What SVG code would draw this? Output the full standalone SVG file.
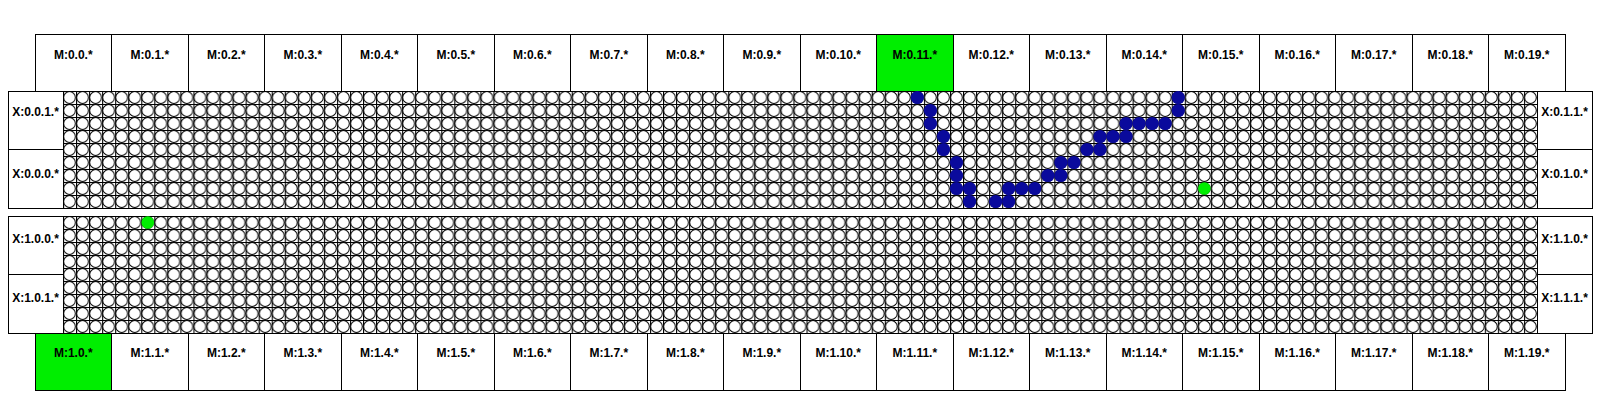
<svg xmlns="http://www.w3.org/2000/svg" width="1600" height="400" viewBox="0 0 1600 400">
<style>
.box{fill:#fff;stroke:#000;stroke-width:1;shape-rendering:crispEdges}
.on{fill:#00ee00}
.ln{stroke:#000;stroke-width:1;fill:none;shape-rendering:crispEdges}
.lbl{font-family:"Liberation Sans",Arial,Helvetica,sans-serif;font-size:12px;font-weight:bold;text-anchor:middle;fill:#000}
.b{fill:#0a0a9c}
.g{fill:#00ee00}
</style>
<defs>
<pattern id="cellsTop" patternUnits="userSpaceOnUse" x="63" y="91" width="13.044" height="13">
<rect width="13.044" height="13" fill="#fff"/>
<path d="M0,0H13.044M0,0V13" stroke="#000" stroke-width="2.2"/>
<circle cx="6.522" cy="6.5" r="5.9" fill="#fff" stroke="#000" stroke-width="1"/>
</pattern>
<pattern id="cellsBot" patternUnits="userSpaceOnUse" x="63" y="216" width="13.044" height="13">
<rect width="13.044" height="13" fill="#fff"/>
<path d="M0,0H13.044M0,0V13" stroke="#000" stroke-width="2.2"/>
<circle cx="6.522" cy="6.5" r="5.9" fill="#fff" stroke="#000" stroke-width="1"/>
</pattern>
</defs>
<rect width="1600" height="400" fill="#fff"/>

<g id="top-modules">
<g id="m-0-0"><rect class="box" x="35" y="34" width="76.5" height="57"/><text class="lbl" x="73.25" y="59">M:0.0.*</text></g>
<g id="m-0-1"><rect class="box" x="111.5" y="34" width="76.5" height="57"/><text class="lbl" x="149.75" y="59">M:0.1.*</text></g>
<g id="m-0-2"><rect class="box" x="188" y="34" width="76.5" height="57"/><text class="lbl" x="226.25" y="59">M:0.2.*</text></g>
<g id="m-0-3"><rect class="box" x="264.5" y="34" width="76.5" height="57"/><text class="lbl" x="302.75" y="59">M:0.3.*</text></g>
<g id="m-0-4"><rect class="box" x="341" y="34" width="76.5" height="57"/><text class="lbl" x="379.25" y="59">M:0.4.*</text></g>
<g id="m-0-5"><rect class="box" x="417.5" y="34" width="76.5" height="57"/><text class="lbl" x="455.75" y="59">M:0.5.*</text></g>
<g id="m-0-6"><rect class="box" x="494" y="34" width="76.5" height="57"/><text class="lbl" x="532.25" y="59">M:0.6.*</text></g>
<g id="m-0-7"><rect class="box" x="570.5" y="34" width="76.5" height="57"/><text class="lbl" x="608.75" y="59">M:0.7.*</text></g>
<g id="m-0-8"><rect class="box" x="647" y="34" width="76.5" height="57"/><text class="lbl" x="685.25" y="59">M:0.8.*</text></g>
<g id="m-0-9"><rect class="box" x="723.5" y="34" width="76.5" height="57"/><text class="lbl" x="761.75" y="59">M:0.9.*</text></g>
<g id="m-0-10"><rect class="box" x="800" y="34" width="76.5" height="57"/><text class="lbl" x="838.25" y="59">M:0.10.*</text></g>
<g id="m-0-11"><rect class="box on" x="876.5" y="34" width="76.5" height="57"/><text class="lbl" x="914.75" y="59">M:0.11.*</text></g>
<g id="m-0-12"><rect class="box" x="953" y="34" width="76.5" height="57"/><text class="lbl" x="991.25" y="59">M:0.12.*</text></g>
<g id="m-0-13"><rect class="box" x="1029.5" y="34" width="76.5" height="57"/><text class="lbl" x="1067.75" y="59">M:0.13.*</text></g>
<g id="m-0-14"><rect class="box" x="1106" y="34" width="76.5" height="57"/><text class="lbl" x="1144.25" y="59">M:0.14.*</text></g>
<g id="m-0-15"><rect class="box" x="1182.5" y="34" width="76.5" height="57"/><text class="lbl" x="1220.75" y="59">M:0.15.*</text></g>
<g id="m-0-16"><rect class="box" x="1259" y="34" width="76.5" height="57"/><text class="lbl" x="1297.25" y="59">M:0.16.*</text></g>
<g id="m-0-17"><rect class="box" x="1335.5" y="34" width="76.5" height="57"/><text class="lbl" x="1373.75" y="59">M:0.17.*</text></g>
<g id="m-0-18"><rect class="box" x="1412" y="34" width="76.5" height="57"/><text class="lbl" x="1450.25" y="59">M:0.18.*</text></g>
<g id="m-0-19"><rect class="box" x="1488.5" y="34" width="76.5" height="57"/><text class="lbl" x="1526.75" y="59">M:0.19.*</text></g>
</g>

<g id="panel-0">
<rect x="63" y="91" width="1474" height="117" fill="url(#cellsTop)"/>
<rect class="box" x="8" y="91" width="1584" height="117" style="fill:none"/>
<path class="ln" d="M63,91V208M1537,91V208M8,149.5H63M1537,149.5H1592"/>
<g id="x-0-0-1"><text class="lbl" x="35.5" y="115.5">X:0.0.1.*</text></g>
<g id="x-0-0-0"><text class="lbl" x="35.5" y="178">X:0.0.0.*</text></g>
<g id="x-0-1-1"><text class="lbl" x="1564.5" y="115.5">X:0.1.1.*</text></g>
<g id="x-0-1-0"><text class="lbl" x="1564.5" y="178">X:0.1.0.*</text></g>
</g>

<g id="panel-1">
<rect x="63" y="216" width="1474" height="117" fill="url(#cellsBot)"/>
<rect class="box" x="8" y="216" width="1584" height="117" style="fill:none"/>
<path class="ln" d="M63,216V333M1537,216V333M8,274.5H63M1537,274.5H1592"/>
<g id="x-1-0-0"><text class="lbl" x="35.5" y="243">X:1.0.0.*</text></g>
<g id="x-1-0-1"><text class="lbl" x="35.5" y="302">X:1.0.1.*</text></g>
<g id="x-1-1-0"><text class="lbl" x="1564.5" y="243">X:1.1.0.*</text></g>
<g id="x-1-1-1"><text class="lbl" x="1564.5" y="302">X:1.1.1.*</text></g>
</g>

<g id="route">
<circle class="b" cx="917.38" cy="97.5" r="6.6"/>
<circle class="b" cx="930.42" cy="110.5" r="6.6"/>
<circle class="b" cx="930.42" cy="123.5" r="6.6"/>
<circle class="b" cx="943.47" cy="136.5" r="6.6"/>
<circle class="b" cx="943.47" cy="149.5" r="6.6"/>
<circle class="b" cx="956.51" cy="162.5" r="6.6"/>
<circle class="b" cx="956.51" cy="175.5" r="6.6"/>
<circle class="b" cx="956.51" cy="188.5" r="6.6"/>
<circle class="b" cx="969.56" cy="188.5" r="6.6"/>
<circle class="b" cx="969.56" cy="201.5" r="6.6"/>
<circle class="b" cx="995.65" cy="201.5" r="6.6"/>
<circle class="b" cx="1008.69" cy="201.5" r="6.6"/>
<circle class="b" cx="1008.69" cy="188.5" r="6.6"/>
<circle class="b" cx="1021.73" cy="188.5" r="6.6"/>
<circle class="b" cx="1034.78" cy="188.5" r="6.6"/>
<circle class="b" cx="1047.82" cy="175.5" r="6.6"/>
<circle class="b" cx="1060.87" cy="175.5" r="6.6"/>
<circle class="b" cx="1060.87" cy="162.5" r="6.6"/>
<circle class="b" cx="1073.91" cy="162.5" r="6.6"/>
<circle class="b" cx="1086.95" cy="149.5" r="6.6"/>
<circle class="b" cx="1100" cy="149.5" r="6.6"/>
<circle class="b" cx="1100" cy="136.5" r="6.6"/>
<circle class="b" cx="1113.04" cy="136.5" r="6.6"/>
<circle class="b" cx="1126.09" cy="136.5" r="6.6"/>
<circle class="b" cx="1126.09" cy="123.5" r="6.6"/>
<circle class="b" cx="1139.13" cy="123.5" r="6.6"/>
<circle class="b" cx="1152.17" cy="123.5" r="6.6"/>
<circle class="b" cx="1165.22" cy="123.5" r="6.6"/>
<circle class="b" cx="1178.26" cy="110.5" r="6.6"/>
<circle class="b" cx="1178.26" cy="97.5" r="6.6"/>
</g>
<g id="markers">
<circle class="g" cx="1204.35" cy="188.5" r="6.3"/>
<circle class="g" cx="147.79" cy="222.5" r="6.3"/>
</g>

<g id="bottom-modules">
<g id="m-1-0"><rect class="box on" x="35" y="333" width="76.5" height="57"/><text class="lbl" x="73.25" y="357">M:1.0.*</text></g>
<g id="m-1-1"><rect class="box" x="111.5" y="333" width="76.5" height="57"/><text class="lbl" x="149.75" y="357">M:1.1.*</text></g>
<g id="m-1-2"><rect class="box" x="188" y="333" width="76.5" height="57"/><text class="lbl" x="226.25" y="357">M:1.2.*</text></g>
<g id="m-1-3"><rect class="box" x="264.5" y="333" width="76.5" height="57"/><text class="lbl" x="302.75" y="357">M:1.3.*</text></g>
<g id="m-1-4"><rect class="box" x="341" y="333" width="76.5" height="57"/><text class="lbl" x="379.25" y="357">M:1.4.*</text></g>
<g id="m-1-5"><rect class="box" x="417.5" y="333" width="76.5" height="57"/><text class="lbl" x="455.75" y="357">M:1.5.*</text></g>
<g id="m-1-6"><rect class="box" x="494" y="333" width="76.5" height="57"/><text class="lbl" x="532.25" y="357">M:1.6.*</text></g>
<g id="m-1-7"><rect class="box" x="570.5" y="333" width="76.5" height="57"/><text class="lbl" x="608.75" y="357">M:1.7.*</text></g>
<g id="m-1-8"><rect class="box" x="647" y="333" width="76.5" height="57"/><text class="lbl" x="685.25" y="357">M:1.8.*</text></g>
<g id="m-1-9"><rect class="box" x="723.5" y="333" width="76.5" height="57"/><text class="lbl" x="761.75" y="357">M:1.9.*</text></g>
<g id="m-1-10"><rect class="box" x="800" y="333" width="76.5" height="57"/><text class="lbl" x="838.25" y="357">M:1.10.*</text></g>
<g id="m-1-11"><rect class="box" x="876.5" y="333" width="76.5" height="57"/><text class="lbl" x="914.75" y="357">M:1.11.*</text></g>
<g id="m-1-12"><rect class="box" x="953" y="333" width="76.5" height="57"/><text class="lbl" x="991.25" y="357">M:1.12.*</text></g>
<g id="m-1-13"><rect class="box" x="1029.5" y="333" width="76.5" height="57"/><text class="lbl" x="1067.75" y="357">M:1.13.*</text></g>
<g id="m-1-14"><rect class="box" x="1106" y="333" width="76.5" height="57"/><text class="lbl" x="1144.25" y="357">M:1.14.*</text></g>
<g id="m-1-15"><rect class="box" x="1182.5" y="333" width="76.5" height="57"/><text class="lbl" x="1220.75" y="357">M:1.15.*</text></g>
<g id="m-1-16"><rect class="box" x="1259" y="333" width="76.5" height="57"/><text class="lbl" x="1297.25" y="357">M:1.16.*</text></g>
<g id="m-1-17"><rect class="box" x="1335.5" y="333" width="76.5" height="57"/><text class="lbl" x="1373.75" y="357">M:1.17.*</text></g>
<g id="m-1-18"><rect class="box" x="1412" y="333" width="76.5" height="57"/><text class="lbl" x="1450.25" y="357">M:1.18.*</text></g>
<g id="m-1-19"><rect class="box" x="1488.5" y="333" width="76.5" height="57"/><text class="lbl" x="1526.75" y="357">M:1.19.*</text></g>
</g>
</svg>
